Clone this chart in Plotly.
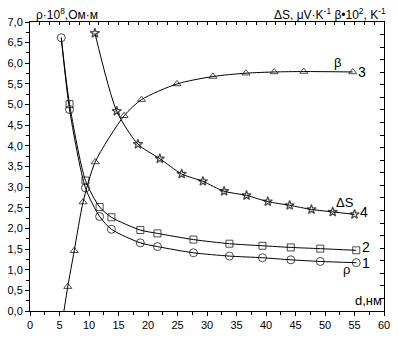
import plotly.graph_objects as go

# thickness d, nm
d_rho = [5.3, 6.7, 9.4, 11.8, 13.8, 18.7, 21.6, 27.7, 33.8, 39.4, 44.2, 49.2, 55.3]
rho1 = [6.62, 4.88, 2.98, 2.29, 1.98, 1.65, 1.56, 1.41, 1.33, 1.29, 1.24, 1.20, 1.17]
rho2 = [6.62, 5.01, 3.16, 2.52, 2.27, 1.96, 1.88, 1.73, 1.63, 1.58, 1.54, 1.51, 1.47]

d_beta = [5.75, 6.4, 7.5, 9.0, 11.05, 15.95, 18.9, 24.9, 31.0, 36.6, 41.4, 46.4, 54.7]
beta3 = [0.0, 0.59, 1.46, 2.64, 3.61, 4.73, 5.12, 5.50, 5.68, 5.76, 5.79, 5.80, 5.79]

d_ds = [11.0, 14.7, 18.3, 22.0, 25.7, 29.3, 32.9, 36.7, 40.3, 44.0, 47.7, 51.3, 55.0]
ds4 = [6.73, 4.84, 4.04, 3.69, 3.32, 3.14, 2.90, 2.80, 2.65, 2.56, 2.46, 2.40, 2.34]

FONT = "Liberation Sans, Arial, sans-serif"
fig = go.Figure()

def add(x, y, symbol, hide_first=False, size=8, lw=1):
    syms = [symbol] * len(x)
    sizes = [size] * len(x)
    if hide_first:
        sizes[0] = 0
    fig.add_trace(go.Scatter(
        x=x, y=y, mode="lines+markers",
        line=dict(color="black", width=1, shape="spline", smoothing=0.7),
        marker=dict(symbol=syms, size=sizes, color="black",
                    line=dict(color="black", width=lw)),
        showlegend=False, cliponaxis=False))

add(d_rho, rho2, "square-open", hide_first=True, size=7)
add(d_rho, rho1, "circle-open", size=8)
add(d_beta, beta3, "triangle-up-open", hide_first=True, size=7)
add(d_ds, ds4, "star-open", size=7, lw=1.3)

# dummy for secondary axes
fig.add_trace(go.Scatter(x=[None], y=[None], xaxis="x2", yaxis="y2", showlegend=False))

ann = [
    ("β", 52.2, 6.03, "center"),
    ("3", 55.3, 5.79, "left"),
    ("ΔS", 53.35, 2.62, "center"),
    ("4", 55.6, 2.40, "left"),
    ("2", 55.9, 1.54, "left"),
    ("1", 55.9, 1.16, "left"),
    ("ρ", 53.6, 1.01, "center"),
]
for t, x, y, xa in ann:
    fig.add_annotation(text=t, x=x, y=y, xref="x", yref="y", xanchor=xa,
                       yanchor="middle", showarrow=False,
                       font=dict(family=FONT, size=14 if t in "1234" else 13, color="black"))

fig.add_annotation(text="d,нм", x=1.0, y=0.26, xref="paper", yref="y",
                   xanchor="right", yanchor="middle", showarrow=False,
                   font=dict(family=FONT, size=13, color="black"))
fig.add_annotation(text="ρ·10<sup>8</sup>,Ом·м", x=0.01, y=1.0, xref="paper", yref="paper",
                   xanchor="left", yanchor="bottom", showarrow=False, yshift=-2,
                   font=dict(family=FONT, size=12, color="black"))
fig.add_annotation(text="ΔS, μV·K<sup>-1</sup> β•10<sup>2</sup>, K<sup>-1</sup>", x=1.01, y=1.0,
                   xref="paper", yref="paper",
                   xanchor="right", yanchor="bottom", showarrow=False, yshift=-2,
                   font=dict(family=FONT, size=12, color="black"))

axcommon = dict(showgrid=False, zeroline=False, showline=True, linecolor="black",
                linewidth=1, tickcolor="black", tickwidth=1,
                tickfont=dict(family=FONT, size=11, color="black"))

fig.update_layout(
    width=398, height=339,
    margin=dict(l=29, r=8, t=22, b=25),
    plot_bgcolor="white", paper_bgcolor="white",
    separators=",.",
    xaxis=dict(range=[0, 60], dtick=5, tick0=0, ticks="outside", ticklen=4,
               minor=dict(dtick=2.5, ticks="outside", ticklen=3, tickcolor="black"),
               **axcommon),
    yaxis=dict(range=[0, 7], dtick=0.5, tick0=0, ticks="outside", ticklen=4,
               tickformat=".1f",
               minor=dict(dtick=0.25, ticks="outside", ticklen=3, tickcolor="black"),
               **axcommon),
    xaxis2=dict(range=[0, 36], dtick=1, overlaying="x", side="top", anchor="y",
                ticks="inside", ticklen=3, showticklabels=False, **axcommon),
    yaxis2=dict(range=[0, 23], dtick=1, overlaying="y", side="right", anchor="x",
                ticks="inside", ticklen=4, showticklabels=False, **axcommon),
)

fig.write_html("out.html")
